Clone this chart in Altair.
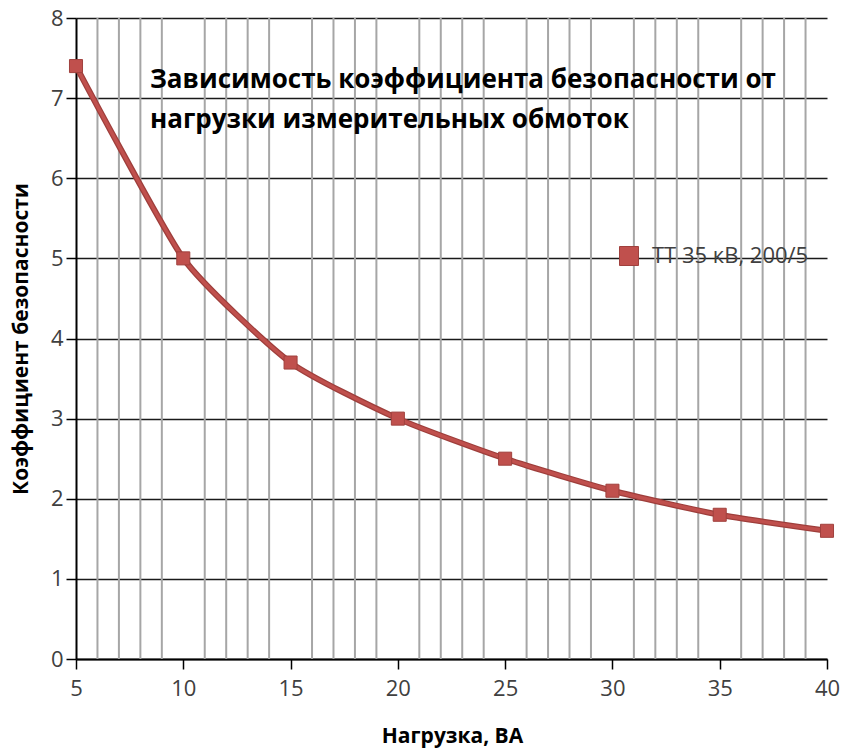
import altair as alt
import pandas as pd

# data
load_va = [5, 10, 15, 20, 25, 30, 35, 40]
safety_factor = [7.4, 5.0, 3.7, 3.0, 2.5, 2.1, 1.8, 1.6]
series_name = "ТТ 35 кВ, 200/5"
x_major_ticks = [5, 10, 15, 20, 25, 30, 35, 40]
x_minor_grid = [v for v in range(6, 40) if v % 5 != 0]
y_ticks = [0, 1, 2, 3, 4, 5, 6, 7, 8]
title_lines = ["Зависимость коэффициента безопасности от",
               "нагрузки измерительных обмоток"]

W, H = 751, 641
FONT = "Open Sans"

df = pd.DataFrame({"x": load_va, "y": safety_factor, "s": [series_name] * len(load_va)})
grid_df = pd.DataFrame({"x": x_minor_grid})

xscale = alt.Scale(domain=[5, 40], nice=False, zero=False)
yscale = alt.Scale(domain=[0, 8], nice=False)

xaxis = alt.Axis(values=x_major_ticks, grid=False, domainColor="#000000", domainWidth=2,
                 tickColor="#000000", tickSize=10, tickWidth=1.5, labelFontSize=22,
                 labelColor="#404040", labelFont=FONT, labelPadding=9, labelFlush=False,
                 title="Нагрузка, ВА", titleFont=FONT, titleFontSize=21,
                 titleFontWeight="bold", titleColor="#000000",
                 titleX=376, titleY=77, titleBaseline="middle", titleAlign="center")
yaxis = alt.Axis(values=y_ticks, grid=True, gridColor="#1a1a1a", gridWidth=1.5,
                 domainColor="#000000", domainWidth=2, tickColor="#000000",
                 tickSize=10, tickWidth=1.5, labelFontSize=22, labelColor="#404040",
                 labelFont=FONT, labelPadding=3,
                 title="Коэффициент безопасности", titleFont=FONT, titleFontSize=21,
                 titleFontWeight="bold", titleColor="#000000", titleAngle=270,
                 titleX=-55, titleY=H / 2, titleBaseline="middle", titleAlign="center")

vgrid = alt.Chart(grid_df).mark_rule(color="#a6a6a6", strokeWidth=2).encode(
    x=alt.X("x:Q", scale=xscale, axis=xaxis),
    y=alt.value(0), y2=alt.value(H))

base = alt.Chart(df).encode(
    x=alt.X("x:Q", scale=xscale, axis=xaxis),
    y=alt.Y("y:Q", scale=yscale, axis=yaxis))

line_outer = base.mark_line(color="#9e3e3b", strokeWidth=6, interpolate="cardinal", tension=0.45)
line_inner = base.mark_line(color="#c0504d", strokeWidth=3.5, interpolate="cardinal", tension=0.45)
points = base.mark_point(shape="square", filled=True, size=170, opacity=1,
                         stroke="#a0403d", strokeWidth=1).encode(
    color=alt.Color("s:N", scale=alt.Scale(range=["#c0504d"]),
                    legend=alt.Legend(title=None, orient="none", legendX=542, legendY=227,
                                      symbolType="square", symbolSize=361,
                                      symbolStrokeColor="#a0403d", symbolStrokeWidth=1,
                                      labelFontSize=22, labelColor="#404040",
                                      labelFont=FONT, labelOffset=12, padding=0)))

title_df = pd.DataFrame({"t": ["\n".join(title_lines)]})
title = alt.Chart(title_df).mark_text(align="left", baseline="alphabetic", font=FONT,
                                      fontSize=26, fontWeight="bold", color="#000000",
                                      lineBreak="\n", lineHeight=40).encode(
    x=alt.value(74), y=alt.value(70), text="t:N")

chart = alt.layer(vgrid, line_outer, line_inner, points, title).properties(
    width=W, height=H,
    padding={"left": 76, "top": 18, "right": 16, "bottom": 89},
    autosize=alt.AutoSizeParams(type="none"),
    background="#ffffff",
).configure_view(stroke=None)

chart.save("out.html", embed_options={"renderer": "svg", "actions": False})
